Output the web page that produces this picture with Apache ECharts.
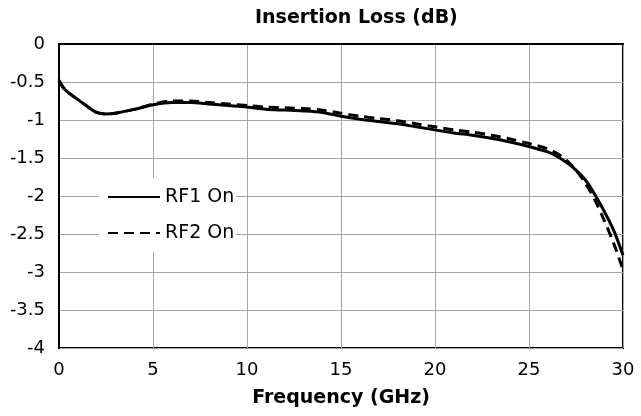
<!DOCTYPE html>
<html>
<head>
<meta charset="utf-8">
<script src="https://cdn.jsdelivr.net/npm/echarts@6/dist/echarts.min.js"></script>
<style>
    html, body { margin: 0; padding: 0; background: #fff; }
    #chart { width: 641px; height: 416px; }
</style>
</head>
<body>
<div id="chart"></div>
<script>
// 频率点 (GHz)
var freqs = [0, 0.25, 0.5, 1, 1.5, 2, 2.5, 3, 4, 5, 6, 7, 8, 9, 10, 11, 12, 13, 14, 15,
    16, 17, 18, 19, 20, 21, 22, 23, 24, 25, 26, 26.5, 27, 27.5, 28, 28.5, 29, 29.5, 30];
// RF1 On 插损 (dB)
var rf1Loss = [-0.48, -0.58, -0.64, -0.73, -0.82, -0.90, -0.92, -0.91, -0.86, -0.80, -0.77, -0.77, -0.79, -0.81, -0.83, -0.86, -0.87, -0.88, -0.90, -0.95,
    -0.99, -1.02, -1.05, -1.09, -1.13, -1.17, -1.20, -1.24, -1.29, -1.35, -1.42, -1.48, -1.56, -1.66, -1.79, -1.98, -2.20, -2.45, -2.78];
// RF2 On 插损 (dB)
var rf2Loss = [-0.48, -0.58, -0.64, -0.73, -0.82, -0.90, -0.92, -0.91, -0.86, -0.79, -0.75, -0.75, -0.77, -0.79, -0.81, -0.83, -0.84, -0.85, -0.87, -0.91,
    -0.95, -0.98, -1.01, -1.05, -1.09, -1.13, -1.16, -1.20, -1.25, -1.31, -1.38, -1.44, -1.53, -1.66, -1.83, -2.05, -2.32, -2.62, -2.97];
var seriesNames = ['RF1 On', 'RF2 On'];
var xTicks = [0, 5, 10, 15, 20, 25, 30];
var yTicks = [0, -0.5, -1, -1.5, -2, -2.5, -3, -3.5, -4];

var fontName = 'DejaVu Sans';

function toPairs(xs, ys) {
    var out = [];
    for (var i = 0; i < xs.length; i++) {
        out.push([xs[i], ys[i]]);
    }
    return out;
}

var chart = echarts.init(document.getElementById('chart'));
chart.setOption({
    animation: false,
    textStyle: { fontFamily: fontName, color: '#000' },
    title: {
        text: 'Insertion Loss (dB)',
        left: 250,
        top: 4,
        textStyle: { fontFamily: fontName, fontSize: 19, fontWeight: 'bold', color: '#000' }
    },
    legend: {
        data: seriesNames,
        orient: 'vertical',
        left: 99,
        top: 178,
        padding: [9, 2, 9, 8],
        itemGap: 16,
        itemWidth: 52,
        itemHeight: 14,
        backgroundColor: '#fff',
        itemStyle: { opacity: 0 },
        textStyle: { fontFamily: fontName, fontSize: 19, color: '#000', lineHeight: 20 }
    },
    grid: {
        left: 59,
        right: 18,
        top: 44,
        bottom: 68,
        show: true,
        borderColor: '#000',
        borderWidth: 2,
        backgroundColor: 'transparent'
    },
    xAxis: {
        type: 'value',
        min: xTicks[0],
        max: xTicks[xTicks.length - 1],
        interval: 5,
        name: 'Frequency (GHz)',
        nameLocation: 'middle',
        nameGap: 41,
        nameTextStyle: { fontFamily: fontName, fontSize: 19, fontWeight: 'bold', color: '#000' },
        axisLine: { show: true, lineStyle: { color: '#000', width: 2 } },
        axisTick: { show: false },
        axisLabel: { fontFamily: fontName, fontSize: 18, color: '#000', margin: 13 },
        splitLine: { show: true, lineStyle: { color: '#a6a6a6', width: 1 } }
    },
    yAxis: {
        type: 'value',
        min: yTicks[yTicks.length - 1],
        max: yTicks[0],
        interval: 0.5,
        axisLine: { show: true, lineStyle: { color: '#000', width: 2 } },
        axisTick: { show: false },
        axisLabel: { fontFamily: fontName, fontSize: 18, color: '#000', margin: 14 },
        splitLine: { show: true, lineStyle: { color: '#a6a6a6', width: 1 } }
    },
    series: [
        {
            name: seriesNames[0],
            type: 'line',
            data: toPairs(freqs, rf1Loss),
            showSymbol: false,
            symbol: 'none',
            smooth: 0.3,
            z: 3,
            lineStyle: { color: '#000', width: 3, type: 'solid' },
            itemStyle: { color: '#000' }
        },
        {
            name: seriesNames[1],
            type: 'line',
            data: toPairs(freqs, rf2Loss),
            showSymbol: false,
            symbol: 'none',
            smooth: 0.3,
            z: 2,
            lineStyle: { color: '#000', width: 3, type: [10, 6] },
            itemStyle: { color: '#000' }
        }
    ]
});
</script>
</body>
</html>
